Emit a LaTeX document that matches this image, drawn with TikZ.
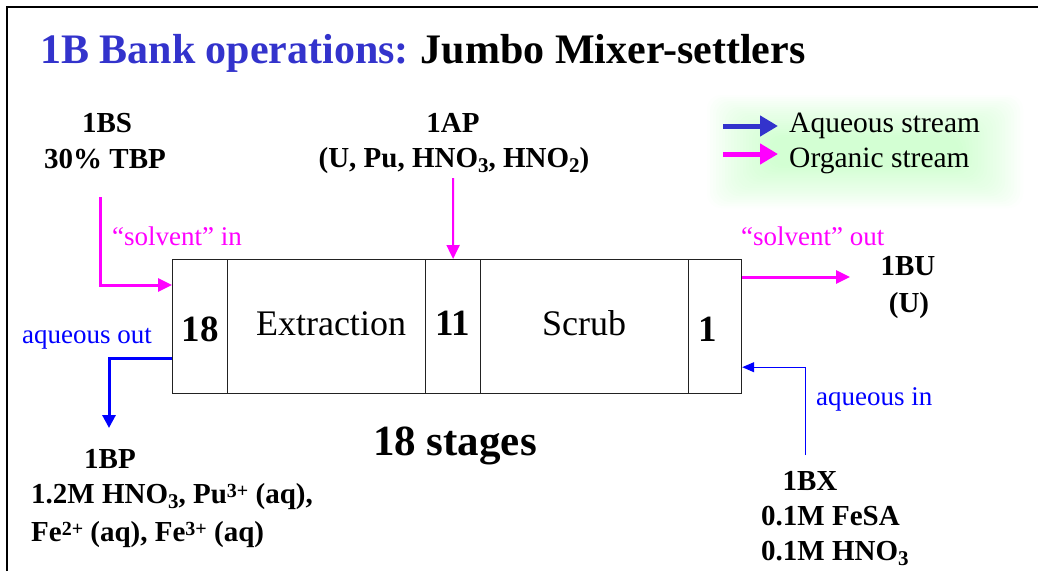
\documentclass[tikz,border=0pt]{standalone}
\usepackage{fontspec}
\setmainfont{Liberation Serif}
\usetikzlibrary{arrows.meta}
\definecolor{titleblue}{HTML}{3333CC}
\definecolor{aqblue}{HTML}{0000FF}
\definecolor{orgmag}{HTML}{FF00FF}
\definecolor{boxline}{HTML}{222222}
\newcommand{\fsz}[1]{\fontsize{#1}{#1}\selectfont}
\newcommand{\subs}[1]{\raisebox{-5pt}{\fsz{21}\bfseries #1}}
\newcommand{\sups}[1]{\raisebox{5.5pt}{\fsz{20}\bfseries #1}}
\tikzset{
  cell/.style={draw=boxline, line width=1.2pt, minimum height=134pt, inner sep=0pt, anchor=north west},
  lbl/.style={inner sep=0pt, anchor=base, font=\fsz{29}\bfseries, align=center},
  rlbl/.style={inner sep=0pt, anchor=base west},
  orgarrow/.style={orgmag, line width=3pt, -{Triangle[length=14pt,width=13pt]}},
  orgthin/.style={orgmag, line width=2pt, -{Triangle[length=14pt,width=13pt]}},
  aqarrow/.style={aqblue, line width=3pt, -{Triangle[length=13pt,width=13pt]}},
  aqthin/.style={aqblue, line width=1pt, -{Triangle[length=12pt,width=10pt]}},
  legarrow/.style={line width=5pt, -{Triangle[length=18pt,width=20pt]}},
}
\begin{document}
\begin{tikzpicture}[x=1pt,y=-1pt]
\useasboundingbox (0,0) rectangle (1038,571);
% frame
\draw[line width=1.2pt] (7,571) -- (7,7) -- (1038,7);
% title
\node[rlbl, font=\fsz{42}\bfseries] (title) at (40,63) {\textcolor{titleblue}{1B Bank operations:}\hspace{-2pt} Jumbo Mixer-settlers};
% legend glow
\foreach \i in {0,...,21}
  \fill[green!60, opacity=0.014, rounded corners=14pt] (707+\i*3,95+\i*2) rectangle (1023-\i*3,208-\i*2);
\coordinate (la1) at (723,126); \coordinate (la2) at (778,126);
\coordinate (lo1) at (723,154); \coordinate (lo2) at (778,154);
\draw[legarrow, titleblue] (la1) -- (la2);
\draw[legarrow, orgmag] (lo1) -- (lo2);
\node[rlbl, font=\fsz{29.5}] (legaq) at (789,132) {Aqueous stream};
\node[rlbl, font=\fsz{29.5}] (legorg) at (789,167) {Organic stream};
% box cells
\node[cell, minimum width=55pt] (c18) at (172,259) {};
\node[cell, minimum width=198pt] (cext) at (227,259) {};
\node[cell, minimum width=55pt] (c11) at (425,259) {};
\node[cell, minimum width=208pt] (cscr) at (480,259) {};
\node[cell, minimum width=53pt] (c1) at (688,259) {};
\node[lbl, font=\fsz{37}\bfseries] (t18) at (200,341) {18};
\node[lbl, font=\fsz{36}] (text) at (331,335) {Extraction};
\node[lbl, font=\fsz{37}\bfseries] (t11) at (453,335) {11};
\node[lbl, font=\fsz{36}] (tscr) at (584,335) {Scrub};
\node[lbl, font=\fsz{37}\bfseries] (t1) at (708,341) {1};
% labels
\node[lbl] (bs) at (107,132) {1BS};
\node[lbl] (bstbp) at (105,168) {30\% TBP};
\node[lbl] (ap) at (453,132) {1AP};
\node[lbl] (apc) at (454,167) {(U, Pu, HNO\subs{3}, HNO\subs{2})};
\node[lbl] (bu) at (908,275) {1BU};
\node[lbl] (buu) at (909,312) {(U)};
\node[lbl] (bp) at (110,468) {1BP};
\node[rlbl, font=\fsz{29}\bfseries] (bp1) at (31,503) {1.2M HNO\subs{3}, Pu\sups{3+} (aq),};
\node[rlbl, font=\fsz{29}\bfseries] (bp2) at (31,541) {Fe\sups{2+} (aq), Fe\sups{3+} (aq)};
\node[lbl] (bx) at (810,490) {1BX};
\node[rlbl, font=\fsz{29}\bfseries] (bx1) at (761,525) {0.1M FeSA};
\node[rlbl, font=\fsz{29}\bfseries] (bx2) at (761,560) {0.1M HNO\subs{3}};
\node[lbl, font=\fsz{43}\bfseries] (stages) at (455,455) {18 stages};
\node[rlbl, font=\fsz{27}, text=orgmag] (sin) at (112,245) {``solvent'' in};
\node[rlbl, font=\fsz{27}, text=orgmag] (sout) at (741,245) {``solvent'' out};
\node[rlbl, font=\fsz{27}, text=aqblue] (aout) at (22,343) {aqueous out};
\node[rlbl, font=\fsz{27}, text=aqblue] (ain) at (816,405) {aqueous in};
% connectors
\coordinate (bsfeed) at (100,197);
\coordinate (apfeed) at (453,178);
\coordinate (buend) at (850,277);
\coordinate (bpend) at (109,428);
\coordinate (bxfeed) at (805,455);
\draw[orgarrow] (bsfeed) |- ([yshift=-26pt]c18.north west);
\draw[orgthin] (apfeed) -- (c11.north);
\draw[orgarrow] ([yshift=-18pt]c1.north east) -- (buend);
\draw[aqarrow] ([yshift=36pt]c18.south west) -| (bpend);
\draw[aqthin] (bxfeed) |- ([yshift=27pt]c1.south east);
\end{tikzpicture}
\end{document}
